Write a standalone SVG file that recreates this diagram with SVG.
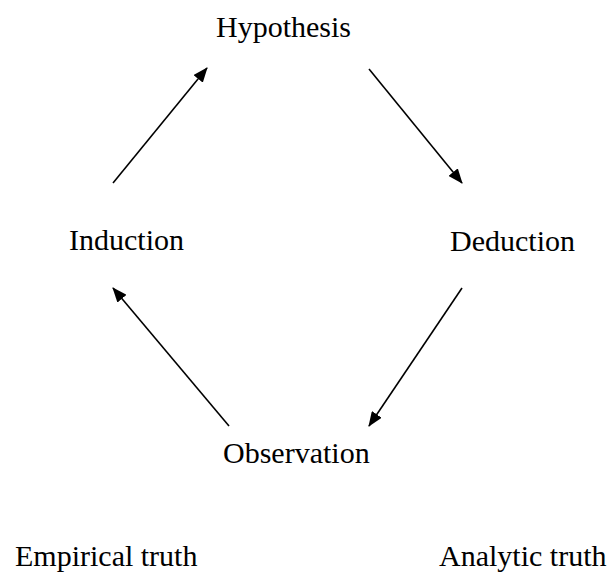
<svg xmlns="http://www.w3.org/2000/svg" width="615" height="573" viewBox="0 0 615 573">
  <style>
    .lbl { font-family: "Liberation Serif", "Times New Roman", serif; font-size: 30px; fill: #000; }
    .edge { stroke: #000; stroke-width: 1.6; fill: none; marker-end: url(#head); }
  </style>
  <defs>
    <marker id="head" markerWidth="16" markerHeight="12" refX="14" refY="6" orient="auto" markerUnits="userSpaceOnUse">
      <path d="M0,0 L15,6 L0,12 Z" fill="#000"/>
    </marker>
  </defs>
  <rect width="615" height="573" fill="#fff"/>

  <g id="connectors">
    <line class="edge" x1="113" y1="183" x2="207" y2="68"/>
    <line class="edge" x1="369" y1="69" x2="462" y2="183"/>
    <line class="edge" x1="462" y1="288" x2="369" y2="426"/>
    <line class="edge" x1="229" y1="426" x2="113" y2="288"/>
  </g>

  <g id="hypothesis"><text class="lbl" x="216" y="37">Hypothesis</text></g>
  <g id="deduction"><text class="lbl" x="450" y="251">Deduction</text></g>
  <g id="induction"><text class="lbl" x="69" y="250">Induction</text></g>
  <g id="observation"><text class="lbl" x="223" y="463">Observation</text></g>
  <g id="empirical"><text class="lbl" x="15" y="566">Empirical truth</text></g>
  <g id="analytic"><text class="lbl" x="439" y="566">Analytic truth</text></g>
</svg>
